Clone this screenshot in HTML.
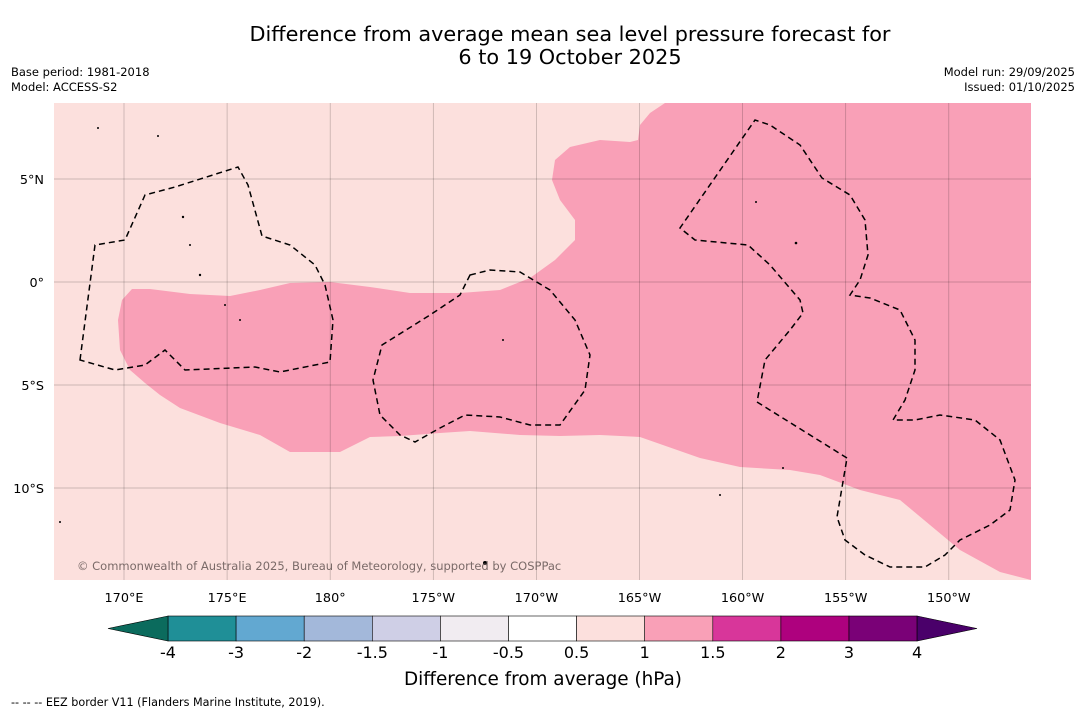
<!DOCTYPE html>
<html><head><meta charset="utf-8"><style>
body{margin:0;background:#fff;width:1085px;height:713px;overflow:hidden;font-family:"DejaVu Sans","Liberation Sans",sans-serif;}
</style></head><body>
<svg width="1085" height="713" xmlns="http://www.w3.org/2000/svg" style="font-family:'DejaVu Sans','Liberation Sans',sans-serif">
<text x="570" y="41" font-size="20.8" text-anchor="middle">Difference from average mean sea level pressure forecast for</text>
<text x="570" y="64" font-size="20.8" text-anchor="middle">6 to 19 October 2025</text>
<text x="11" y="76" font-size="11.5">Base period: 1981-2018</text>
<text x="11" y="91" font-size="11.5">Model: ACCESS-S2</text>
<text x="1075" y="76" font-size="11.5" text-anchor="end">Model run: 29/09/2025</text>
<text x="1075" y="91" font-size="11.5" text-anchor="end">Issued: 01/10/2025</text>
<g>
<rect x="54" y="103" width="977" height="477" fill="#fce0dd"/>
<clipPath id="mc"><rect x="54" y="103" width="977" height="477"/></clipPath>
<g clip-path="url(#mc)">
<path fill="#f9a0b7" d="M665,103 L1031,103 L1031,580 L1000,572 L960,550 L930,525 L900,500 L860,490 L820,475 L790,470 L740,467 L700,458 L640,437 L600,435 L560,436 L520,435 L470,431 L440,433 L400,436 L370,437 L350,447 L340,452 L290,452 L260,435 L220,423 L180,408 L160,395 L145,383 L130,370 L120,350 L118,320 L122,300 L132,289 L150,289 L190,294 L230,296 L260,290 L290,283 L330,282 L370,287 L410,293 L460,293 L500,290 L530,278 L555,260 L575,240 L575,220 L560,200 L552,180 L555,160 L570,147 L600,140 L630,142 L638,140 L640,125 L650,113 Z M655,160 L668,155 L685,170 L685,190 L675,188 L662,175 Z"/>
<g stroke="#000" stroke-opacity="0.25" stroke-width="0.7" id="grid"></g>
<g fill="none" stroke="#000" stroke-width="1.5" stroke-dasharray="6,4">
<path d="M80,360 L95,245 L125,240 L145,195 L175,187 L238,167 L248,185 L262,236 L290,245 L315,265 L325,285 L333,320 L330,362 L280,372 L255,367 L185,370 L165,350 L145,365 L115,370 Z"/>
<path d="M470,275 L490,270 L520,272 L550,290 L575,320 L590,355 L585,390 L560,425 L530,425 L500,417 L465,415 L440,428 L415,442 L400,435 L380,415 L373,380 L382,345 L430,315 L460,295 Z"/>
<path d="M847,458 L757,402 L765,360 L790,330 L803,313 L800,300 L770,265 L748,245 L695,240 L680,228 L755,120 L770,125 L800,145 L822,178 L850,195 L865,220 L868,255 L860,280 L850,295 L870,298 L900,310 L915,340 L915,370 L905,400 L893,420 L915,420 L940,415 L975,420 L1000,440 L1015,480 L1010,510 L990,525 L960,540 L945,555 L925,567 L890,567 L865,555 L845,540 L837,517 L847,458"/>
</g>
<g fill="#000">
<circle cx="183" cy="217" r="1.2"/><circle cx="190" cy="245" r="1"/><circle cx="200" cy="275" r="1.2"/><circle cx="225" cy="305" r="1"/><circle cx="240" cy="320" r="1"/><circle cx="503" cy="340" r="1"/><circle cx="756" cy="202" r="1"/><circle cx="796" cy="243" r="1.3"/><circle cx="783" cy="468" r="1"/><circle cx="720" cy="495" r="1"/><circle cx="485" cy="563" r="2"/><circle cx="60" cy="522" r="1"/><circle cx="158" cy="136" r="1"/><circle cx="98" cy="128" r="1"/>
</g>
</g>
<text x="77" y="570" font-size="11.5" fill="#7a6a68">© Commonwealth of Australia 2025, Bureau of Meteorology, supported by COSPPac</text>
<g font-size="12.8" text-anchor="middle" id="xt"></g>
<g font-size="12.8" text-anchor="end" id="yt"></g>
</g>
<g id="cbar"></g>
<text x="543" y="685" font-size="18.4" text-anchor="middle">Difference from average (hPa)</text>
<text x="11" y="706" font-size="11.2">--  --  -- EEZ border V11 (Flanders Marine Institute, 2019).</text>
</svg>
<script>
const ns="http://www.w3.org/2000/svg";
const lonLabels=["170°E","175°E","180°","175°W","170°W","165°W","160°W","155°W","150°W"];
const lonValues=[170,175,180,185,190,195,200,205,210];
const latLabels=["5°N","0°","5°S","10°S"];
const latValues=[5,0,-5,-10];
const cbLevels=["-4","-3","-2","-1.5","-1","-0.5","0.5","1","1.5","2","3","4"];
const cbColors=["#1f8f97","#62a8d1","#a3b8da","#cfcfe6","#f1ecf1","#ffffff","#fce0dd","#f9a0b7","#d8369a","#ae017e","#7a0177"];
const cbUnder="#0b6b5d", cbOver="#4a006a";
const xS=v=>124+(v-170)*20.62;
const yS=v=>282-v*20.6;
function mk(t,a,p){const e=document.createElementNS(ns,t);for(const k in a)e.setAttribute(k,a[k]);p.appendChild(e);return e;}
const grid=document.getElementById('grid'),xt=document.getElementById('xt'),yt=document.getElementById('yt');
lonValues.forEach((v,i)=>{const l=mk('line',{x1:xS(v),x2:xS(v),y1:103,y2:580},grid);


const t=mk('text',{x:xS(v),y:602},xt);t.textContent=lonLabels[i];

});
latValues.forEach((v,i)=>{const l=mk('line',{x1:54,x2:1031,y1:yS(v),y2:yS(v)},grid);


const t=mk('text',{x:44,y:yS(v)+5},yt);t.textContent=latLabels[i];

});
const cb=document.getElementById('cbar');
const x0=168,w=68.1,y0=616,h=25;
const cx=i=>x0+i*w;
cbColors.forEach((c,i)=>{const r=mk('rect',{x:cx(i),y:y0,width:w,height:h,fill:c,stroke:'#000','stroke-width':0.6},cb);

});
const ul=mk('polygon',{points:`${cx(0)},${y0} 108,${y0+h/2} ${cx(0)},${y0+h}`,fill:cbUnder,stroke:'#000','stroke-width':0.6},cb);


const n=cbColors.length;
const ov=mk('polygon',{points:`${cx(n)},${y0} 977,${y0+h/2} ${cx(n)},${y0+h}`,fill:cbOver,stroke:'#000','stroke-width':0.6},cb);


cbLevels.forEach((s,i)=>{const t=mk('text',{x:cx(i),y:658,'font-size':16,'text-anchor':'middle'},cb);t.textContent=s;

});
</script>
</body></html>
